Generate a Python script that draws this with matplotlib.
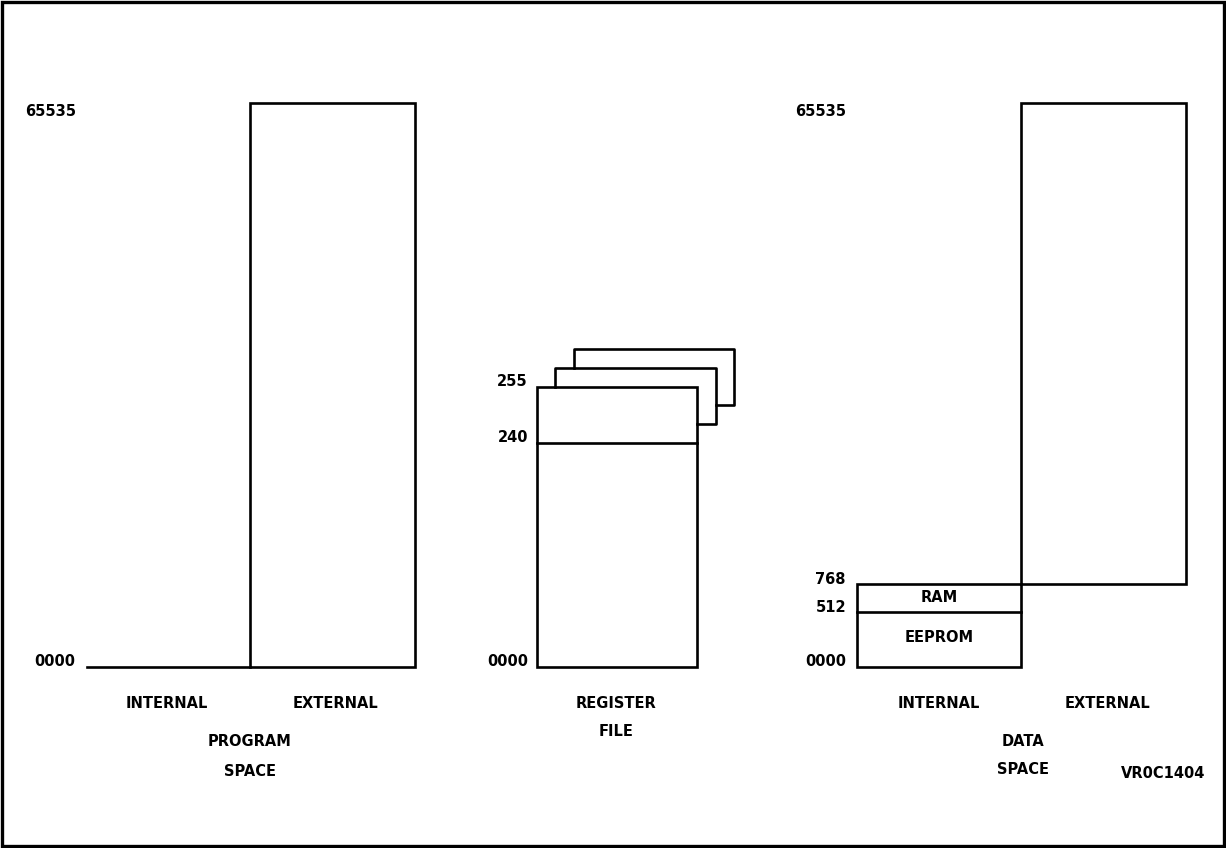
import matplotlib.pyplot as plt
from matplotlib.patches import Rectangle

# memory map labels (schematic, not to scale)
program_addr = ["65535", "0000"]
register_addr = ["255", "240", "0000"]
data_addr = ["65535", "768", "512", "0000"]
data_regions = ["RAM", "EEPROM"]
side_labels = ["INTERNAL", "EXTERNAL"]
titles = [("PROGRAM", "SPACE"), ("REGISTER", "FILE"), ("DATA", "SPACE")]
figure_id = "VR0C1404"

INK = "#000000"
LW = 1.9

fig = plt.figure(figsize=(12.26, 8.48), dpi=100)
ax = fig.add_axes([0, 0, 1, 1])
ax.set_xlim(0, 1226)
ax.set_ylim(848, 0)
ax.axis("off")

txt = dict(color=INK, fontweight="bold", fontsize=10.5, family="DejaVu Sans",
           va="center")

# outer frame
ax.add_patch(Rectangle((2, 2), 1222, 844, fill=False, lw=2.4, ec=INK))


def box(x0, y0, x1, y1, **kw):
    ax.add_patch(Rectangle((x0, y0), x1 - x0, y1 - y0, fill=False, lw=LW, ec=INK, **kw))


# --- program space
ax.plot([87, 250], [667, 667], color=INK, lw=LW)
box(250, 103, 415, 667)
ax.text(76, 111, program_addr[0], ha="right", **txt)
ax.text(75, 662, program_addr[1], ha="right", **txt)
ax.text(167, 703, side_labels[0], ha="center", **txt)
ax.text(336, 703, side_labels[1], ha="center", **txt)
ax.text(250, 742, titles[0][0], ha="center", **txt)
ax.text(250, 771, titles[0][1], ha="center", **txt)

# --- register file (stacked banks)
ax.plot([574, 574, 734, 734, 716], [368, 349, 349, 405, 405], color=INK, lw=LW)
ax.plot([555, 555, 716, 716, 697], [387, 368, 368, 424, 424], color=INK, lw=LW)
box(537, 387, 697, 667)
ax.plot([537, 697], [443, 443], color=INK, lw=LW)
ax.text(528, 382, register_addr[0], ha="right", **txt)
ax.text(528, 437, register_addr[1], ha="right", **txt)
ax.text(528, 662, register_addr[2], ha="right", **txt)
ax.text(616, 703, titles[1][0], ha="center", **txt)
ax.text(616, 731, titles[1][1], ha="center", **txt)

# --- data space
box(1021, 103, 1186, 584)
box(857, 584, 1021, 667)
ax.plot([857, 1021], [612, 612], color=INK, lw=LW)
ax.text(846, 111, data_addr[0], ha="right", **txt)
ax.text(846, 579, data_addr[1], ha="right", **txt)
ax.text(846, 607, data_addr[2], ha="right", **txt)
ax.text(846, 662, data_addr[3], ha="right", **txt)
ax.text(939, 598, data_regions[0], ha="center", **txt)
ax.text(939, 637, data_regions[1], ha="center", **txt)
ax.text(939, 703, side_labels[0], ha="center", **txt)
ax.text(1107, 703, side_labels[1], ha="center", **txt)
ax.text(1023, 741, titles[2][0], ha="center", **txt)
ax.text(1023, 770, titles[2][1], ha="center", **txt)
ax.text(1163, 773, figure_id, ha="center", **txt)

fig.savefig("out.png", dpi=100, facecolor="white")
